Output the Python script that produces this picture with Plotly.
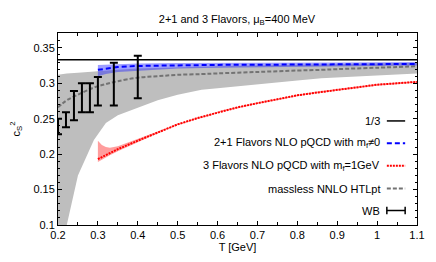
import plotly.graph_objects as go

# ---- data ----
htl_T = [0.20, 0.21, 0.222, 0.25, 0.29, 0.32, 0.35, 0.40, 0.45, 0.50, 0.56, 0.60, 0.70, 0.80, 0.86, 0.90, 1.00, 1.10]
htl_center = [0.266, 0.271, 0.276, 0.284, 0.294, 0.299, 0.303, 0.308, 0.310, 0.312, 0.313, 0.314, 0.316, 0.318, 0.319, 0.320, 0.322, 0.324]
htl_upper = [0.312, 0.313, 0.314, 0.315, 0.317, 0.318, 0.319, 0.321, 0.322, 0.323, 0.3235, 0.324, 0.325, 0.326, 0.3265, 0.327, 0.328, 0.329]
htl_lower = [0.04, 0.07, 0.10, 0.17, 0.22, 0.244, 0.255, 0.266, 0.276, 0.284, 0.291, 0.293, 0.299, 0.304, 0.307, 0.308, 0.311, 0.314]

blue_T = [0.30, 0.32, 0.35, 0.40, 0.50, 0.60, 0.70, 0.80, 0.90, 1.00, 1.10]
blue_center = [0.319, 0.321, 0.323, 0.3245, 0.3255, 0.326, 0.3262, 0.3265, 0.3268, 0.327, 0.3273]
blue_upper = [0.326, 0.3265, 0.327, 0.328, 0.3285, 0.329, 0.329, 0.3292, 0.3295, 0.3298, 0.330]
blue_lower = [0.310, 0.313, 0.316, 0.318, 0.321, 0.322, 0.3225, 0.323, 0.324, 0.3245, 0.325]

red_T = [0.30, 0.31, 0.32, 0.33, 0.35, 0.40, 0.45, 0.50, 0.55, 0.60, 0.65, 0.70, 0.75, 0.80, 0.85, 0.90, 0.95, 1.00, 1.05, 1.10]
red_center = [0.193, 0.196, 0.199, 0.202, 0.207, 0.219, 0.231, 0.242, 0.251, 0.259, 0.266, 0.272, 0.278, 0.283, 0.287, 0.291, 0.295, 0.298, 0.300, 0.302]
red_upper = [0.219, 0.213, 0.210, 0.209, 0.211, 0.221, 0.232, 0.243, 0.252, 0.260, 0.267, 0.273, 0.279, 0.284, 0.288, 0.292, 0.296, 0.299, 0.301, 0.303]
red_lower = [0.189, 0.1925, 0.1955, 0.1985, 0.204, 0.217, 0.2295, 0.241, 0.250, 0.258, 0.265, 0.271, 0.277, 0.282, 0.286, 0.290, 0.294, 0.297, 0.299, 0.301]

wb_T = [0.20, 0.22, 0.24, 0.26, 0.28, 0.30, 0.34, 0.40]
wb_low = [0.228, 0.238, 0.248, 0.259, 0.259, 0.2685, 0.2685, 0.279]
wb_high = [0.250, 0.259, 0.289, 0.300, 0.300, 0.309, 0.329, 0.339]

third_T = [0.2, 1.1]
third_val = [1 / 3, 1 / 3]

x_ticks = [0.2, 0.3, 0.4, 0.5, 0.6, 0.7, 0.8, 0.9, 1.0, 1.1]
x_tick_labels = ["0.2", "0.3", "0.4", "0.5", "0.6", "0.7", "0.8", "0.9", "1", "1.1"]
y_ticks = [0.1, 0.15, 0.2, 0.25, 0.3, 0.35]
y_tick_labels = ["0.1", "0.15", "0.2", "0.25", "0.3", "0.35"]

legend_labels = [
    "1/3",
    "2+1 Flavors NLO pQCD with m<sub>f</sub>≠0",
    "3 Flavors NLO pQCD with m<sub>f</sub>=1GeV",
    "massless NNLO HTLpt",
    "WB",
]

FONT = "Liberation Sans, Arial, sans-serif"

fig = go.Figure()

def band(x, lo, hi, fillcolor):
    fig.add_trace(go.Scatter(x=x, y=lo, mode="lines", line=dict(width=0), hoverinfo="skip", showlegend=False))
    fig.add_trace(go.Scatter(x=x, y=hi, mode="lines", line=dict(width=0), fill="tonexty",
                             fillcolor=fillcolor, hoverinfo="skip", showlegend=False))

GRAY_DASH = "4px,2px"
BLUE_DASH = "5px,3px"
RED_DOT = "2px,1px"

band(htl_T, htl_lower, htl_upper, "rgb(190,190,190)")
fig.add_trace(go.Scatter(x=htl_T, y=htl_center, mode="lines", line=dict(color="rgb(115,115,115)", width=2, dash=GRAY_DASH),
                         line_shape="spline", showlegend=False))
band(blue_T, blue_lower, blue_upper, "rgba(40,40,255,0.45)")
fig.add_trace(go.Scatter(x=blue_T, y=blue_center, mode="lines", line=dict(color="rgb(0,0,255)", width=2, dash=BLUE_DASH),
                         showlegend=False))
band(red_T, red_lower, red_upper, "rgba(255,60,60,0.5)")
fig.add_trace(go.Scatter(x=red_T, y=red_center, mode="lines", line=dict(color="rgb(255,0,0)", width=2, dash=RED_DOT),
                         showlegend=False))
fig.add_trace(go.Scatter(x=third_T, y=third_val, mode="lines", line=dict(color="black", width=1.5), showlegend=False))

wb_mid = [(a + b) / 2 for a, b in zip(wb_low, wb_high)]
wb_err = [(b - a) / 2 for a, b in zip(wb_low, wb_high)]
fig.add_trace(go.Scatter(x=wb_T, y=wb_mid, mode="markers", marker=dict(size=1, color="rgba(0,0,0,0)"),
                         error_y=dict(type="data", array=wb_err, color="black", thickness=2, width=4),
                         showlegend=False))

# legend (gnuplot style: text right-aligned, sample on the right)
row_y = [0.542, 0.4255, 0.309, 0.190, 0.0755]
styles = [("black", "solid", 1.5), ("rgb(0,0,255)", BLUE_DASH, 2), ("rgb(255,0,0)", RED_DOT, 2),
          ("rgb(115,115,115)", GRAY_DASH, 2), ("black", "solid", 1.5)]
x0, x1 = 0.916, 0.967
for lab, yy, (c, d, w) in zip(legend_labels, row_y, styles):
    fig.add_annotation(xref="paper", yref="paper", x=0.9025, y=yy, text=lab, showarrow=False,
                       xanchor="right", yanchor="middle", font=dict(size=11, color="black", family=FONT))
    fig.add_shape(type="line", xref="paper", yref="paper", x0=x0, x1=x1, y0=yy, y1=yy,
                  line=dict(color=c, width=w, dash=d))
for xx in (x0, x1):
    fig.add_shape(type="line", xref="paper", yref="paper", x0=xx, x1=xx, y0=row_y[4] - 0.02, y1=row_y[4] + 0.02,
                  line=dict(color="black", width=1.5))

axis_common = dict(showline=True, linecolor="black", linewidth=1, mirror="ticks", ticks="inside",
                   ticklen=4, tickcolor="black", showgrid=False, zeroline=False, automargin=False,
                   tickfont=dict(size=11, color="black", family=FONT))
fig.update_xaxes(range=[0.2, 1.1], tickmode="array", tickvals=x_ticks, ticktext=x_tick_labels, tickangle=0,
                 minor=dict(dtick=0.05, ticks="inside", ticklen=3, tickcolor="black"),
                 title=dict(text="T [GeV]", font=dict(size=11, color="black", family=FONT), standoff=1),
                 **axis_common)
fig.update_yaxes(range=[0.1, 0.371], tickmode="array", tickvals=y_ticks, ticktext=y_tick_labels,
                 minor=dict(dtick=0.01, ticks="inside", ticklen=2, tickcolor="black"),
                 title=dict(text="c<sub>S</sub><sup>2</sup>", font=dict(size=11, color="black", family=FONT), standoff=16),
                 **axis_common)

# the page adds an 8px body margin, so the figure is sized to fit inside 436x262
fig.update_layout(
    width=428, height=254,
    margin=dict(l=50, r=19, t=25, b=37),
    paper_bgcolor="white", plot_bgcolor="white",
    title=dict(text="2+1 and 3 Flavors, μ<sub>B</sub>=400 MeV", x=0.535, xanchor="center", y=0.957, yanchor="middle",
               font=dict(size=11, color="black", family=FONT)),
    font=dict(family=FONT, size=11, color="black"),
    showlegend=False,
)

fig.write_html("out.html")
